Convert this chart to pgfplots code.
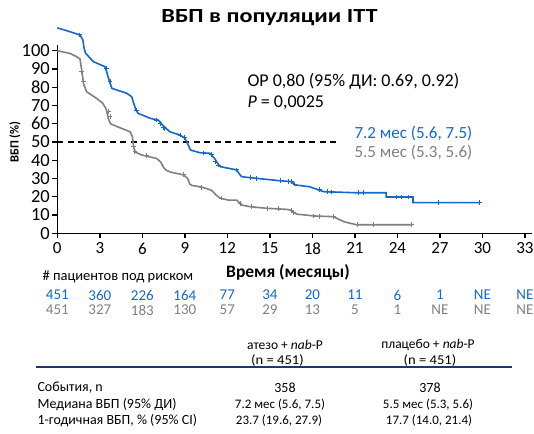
\documentclass[border=0pt]{standalone}
\usepackage{fontspec}
\setmainfont{Carlito}[Numbers=Lining]
\usepackage{pgfplots}
\pgfplotsset{compat=1.18}
\definecolor{kmblue}{RGB}{20,104,204}
\definecolor{kmgray}{RGB}{128,128,128}
\definecolor{navy}{RGB}{31,56,100}
\newcommand{\fs}[1]{\fontsize{#1}{#1}\selectfont}
\newcommand{\hs}[2]{\scalebox{#1}[1]{#2}}
\begin{document}
\begin{tikzpicture}[x=1pt,y=1pt]
\useasboundingbox (0,0) rectangle (534,-433);
\begin{axis}[
  at={(57.3pt,-233.3pt)}, anchor=south west,
  x=14.17pt, y=1.826pt,
  xmin=0, xmax=33.5, ymin=0, ymax=103,
  enlargelimits=false, clip=false,
  axis x line*=bottom, axis y line*=left,
  axis line style={-, line width=1.6pt},
  xtick={0,3,...,33}, ytick={0,10,...,100},
  tick align=outside, major tick length=5pt,
  tick style={line width=1.4pt, black},
  /pgf/number format/assume math mode=true,
  xticklabel style={font=\fs{17}, yshift=-1pt},
  yticklabel style={font=\fs{18.5}, xshift=1pt},
]
% median line
\addplot[black, dashed, line width=1.3pt, dash pattern=on 6pt off 4.5pt] coordinates {(0,50) (19.8,50)};
% placebo (gray)
\addplot[kmgray, line width=1.6pt] coordinates {
(0,100) (0.9,98.5) (1.37,96.7) (1.6,95.5) (1.75,88) (1.85,82) (2.07,77.5) (2.75,74) (3.2,71.3)
(3.45,68) (3.6,63) (3.75,60) (4.2,58.5) (5.13,55.6) (5.3,53) (5.4,47) (5.5,44.5) (5.95,42.9)
(7.0,41) (7.3,39) (7.5,36) (7.7,34.5) (8.0,33.5) (8.9,32) (9.2,30) (9.35,27) (9.5,26.2)
(10.07,25.5) (10.5,24.6) (10.9,23.5) (11.2,21) (11.5,19.2) (12.07,18.2) (12.66,18.2) (13.0,15.5)
(13.6,14.6) (14.07,14.2) (14.8,13.7) (16.2,13.1) (16.4,12.8) (16.9,10.5) (18.1,9.5) (19.5,9.1)
(20.2,6.4) (21.1,4.7) (25.05,4.7)};
\addplot[kmgray, only marks, mark=+, mark size=2.4pt, mark options={line width=1pt}] coordinates {
(1.72,88.5) (1.84,83) (3.6,66.5) (3.72,63.9) (5.36,47.4) (5.48,44.7) (6.3,42.6) (8.9,32.2)
(10.2,25.3) (11.6,19.3) (12.9,16.2) (13.7,14.5) (14.8,13.7) (15.6,13.4) (16.5,12.3) (16.7,11.4)
(18.1,9.5) (18.5,9.4) (19.5,9.1) (21.2,4.7) (22.3,4.7) (25.0,4.7)};
% atezo (blue)
\addplot[kmblue, line width=1.6pt] coordinates {
(0,112.5) (0.9,110.4) (1.6,108.6) (1.8,106) (1.9,101) (2.0,98.6) (2.54,94) (3.37,91.2)
(3.5,88) (3.65,84) (3.85,79.4) (4.9,76.7) (5.25,74.8) (5.4,71) (5.55,67.5) (5.7,65.7)
(6.55,63) (7.13,62) (7.4,59.5) (7.8,56.6) (7.95,55.6) (8.66,53.8) (9.0,52) (9.2,49) (9.4,45.6)
(10.07,44.1) (10.77,43.8) (11.1,41) (11.3,38.5) (11.5,36.5) (12.66,34.7) (12.8,33) (13.0,31)
(14.07,30.1) (15.7,28.8) (16.5,28.3) (16.8,26.5) (17.8,25.5) (18.8,22.8) (21.1,22.2) (23.2,22.2)
(23.2,19.9) (25.1,19.9) (25.1,16.8) (29.8,16.8)};
\addplot[kmblue, only marks, mark=+, mark size=2.4pt, mark options={line width=1pt}] coordinates {
(1.6,108.6) (3.49,90.5) (3.72,83) (5.6,67.5) (7.01,62) (7.25,60.2) (7.5,58) (7.6,57.2)
(8.66,53.8) (9.0,52.5) (10.3,44) (10.9,43.3) (11.13,39.5) (11.36,37.4) (12.66,34.7) (13.6,30.7)
(14.07,30.1) (15.72,29) (16.3,28.5) (16.54,28.3) (16.77,27) (18.5,23.8) (19.1,22.8) (19.37,22.6)
(21.24,22.2) (21.6,22.2) (23.95,19.9) (24.3,19.9) (24.77,19.9) (26.9,16.8) (29.8,16.8)};
\end{axis}
% y label
\node[rotate=90, font=\bfseries\fs{12.5}] at (15,-142) {ВБП (\%)};
% risk table
\foreach \xx/\v in {0/451,3/360,6/226,9/164,12/77,15/34,18/20,21/11,24/6,27/1,30/NE,33/NE}
  {\node[text=kmblue, font=\fs{15}] at ({57.3+14.17*\xx},-295) {\v};}
\foreach \xx/\v in {0/451,3/327,6/183,9/130,12/57,15/29,18/13,21/5,24/1,27/NE,30/NE,33/NE}
  {\node[text=kmgray, font=\fs{15}] at ({57.3+14.17*\xx},-310) {\v};}
% titles and texts
\node[font=\bfseries\fs{20}] at (269.5,-17.5) {\hs{1.21}{ВБП в популяции ITT}};
\node[anchor=west, font=\fs{18}] at (244,-81.7) {ОР 0,80 (95\% ДИ: 0.69, 0.92)};
\node[anchor=west, font=\fs{18}] at (244,-103) {\textit{P} = 0,0025};
\node[anchor=west, font=\fs{17}, text=kmblue] at (351,-133) {7.2 мес (5.6, 7.5)};
\node[anchor=west, font=\fs{17}, text=kmgray] at (351,-152) {5.5 мес (5.3, 5.6)};
\node[font=\bfseries\fs{17.5}] at (288,-272.7) {Время (месяцы)};
\node[anchor=west, font=\fs{14.5}] at (39,-276.7) {\# пациентов под риском};
% summary table
\node[font=\fs{13.5}] at (285,-345) {атезо + \textit{nab}-P};
\node[font=\fs{13.5}] at (277.5,-360) {\hs{1.08}{(n = 451)}};
\node[font=\fs{13.5}] at (428,-345) {плацебо + \textit{nab}-P};
\node[font=\fs{13.5}] at (430,-360) {\hs{1.08}{(n = 451)}};
\draw[navy, line width=1.5pt] (36,-367) -- (512,-367);
\node[anchor=west, font=\fs{14}] at (34,-388) {События, n};
\node[anchor=west, font=\fs{14}] at (34,-405) {Медиана ВБП (95\% ДИ)};
\node[anchor=west, font=\fs{14}] at (34,-421) {1-годичная ВБП, \% (95\% CI)};
\node[font=\fs{14}] at (285,-388) {358};
\node[font=\fs{13}] at (280,-405) {7.2 мес (5.6, 7.5)};
\node[font=\fs{13}] at (279,-421) {23.7 (19.6, 27.9)};
\node[font=\fs{14}] at (430,-388) {378};
\node[font=\fs{13}] at (428,-405) {5.5 мес (5.3, 5.6)};
\node[font=\fs{13}] at (429,-421) {17.7 (14.0, 21.4)};
\end{tikzpicture}
\end{document}
